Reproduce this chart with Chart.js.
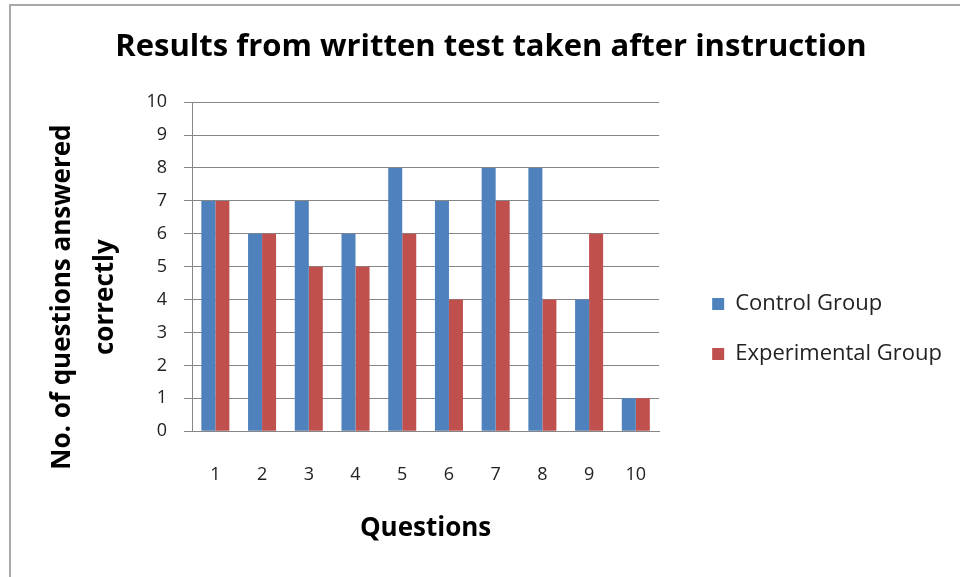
<!DOCTYPE html>
<html>
<head>
<meta charset="utf-8">
<script src="https://cdn.jsdelivr.net/npm/chart.js@4"></script>
<style>
  html, body { margin: 0; padding: 0; background: #fff; }
  #wrap { position: relative; width: 960px; height: 577px; overflow: hidden; }
  #frame { position: absolute; left: 9px; top: 4px; width: 1000px; height: 700px;
           border-left: 2px solid #a9a9a9; border-top: 2px solid #a9a9a9; }
  #myChart { position: absolute; left: 0; top: 0; }
</style>
</head>
<body>
<div id="wrap">
  <div id="frame"></div>
  <canvas id="myChart" width="960" height="577"></canvas>
</div>
<script>
const questions = ["1", "2", "3", "4", "5", "6", "7", "8", "9", "10"];
const controlGroup = [7, 6, 7, 6, 8, 7, 8, 8, 4, 1];
const experimentalGroup = [7, 6, 5, 5, 6, 4, 7, 4, 6, 1];
const yTicks = [0, 1, 2, 3, 4, 5, 6, 7, 8, 9, 10];

const ctx = document.getElementById("myChart");
const fontFamily = "'Open Sans', sans-serif";

// trailing spaces push the rotated title a bit lower, like the original
const yTitlePad = "         ";

new Chart(ctx, {
  type: "bar",
  data: {
    labels: questions,
    datasets: [
      {
        label: "Control Group",
        data: controlGroup,
        backgroundColor: "#4f81bd",
        categoryPercentage: 0.6,
        barPercentage: 1.0,
      },
      {
        label: "Experimental Group",
        data: experimentalGroup,
        backgroundColor: "#c0504d",
        categoryPercentage: 0.6,
        barPercentage: 1.0,
      },
    ],
  },
  options: {
    responsive: false,
    animation: false,
    layout: {
      padding: { left: 30, right: 8, top: 29, bottom: 33 },
    },
    plugins: {
      title: {
        display: true,
        text: "Results from written test taken after instruction",
        color: "#000",
        font: { family: fontFamily, size: 31, weight: "bold" },
        padding: { top: 0, bottom: 36 },
      },
      legend: {
        position: "right",
        maxWidth: 320,
        // empty title only used to move the items down
        title: {
          display: true,
          text: "",
          font: { size: 4 },
          padding: { top: 40, bottom: 40 },
        },
        labels: {
          boxWidth: 12,
          boxHeight: 12,
          padding: 28,
          color: "#222",
          font: { family: fontFamily, size: 22 },
        },
      },
      tooltip: { enabled: false },
    },
    scales: {
      x: {
        grid: { display: false, drawTicks: true, tickLength: 22 },
        border: { color: "#868686" },
        ticks: {
          color: "#222",
          padding: 11,
          font: { family: fontFamily, size: 18 },
        },
        title: {
          display: true,
          text: "Questions",
          color: "#000",
          font: { family: fontFamily, size: 26, weight: "bold" },
          padding: { top: 16, bottom: 0 },
        },
      },
      y: {
        min: 0,
        max: 10,
        afterBuildTicks: (axis) => {
          axis.ticks = yTicks.map((v) => ({ value: v }));
        },
        afterFit: (axis) => {
          axis.width = 162;
        },
        grid: { color: "#868686", tickLength: 8 },
        border: { color: "#868686" },
        ticks: {
          color: "#222",
          padding: 17,
          font: { family: fontFamily, size: 18 },
        },
        title: {
          display: true,
          text: ["No. of questions answered" + yTitlePad, "correctly" + yTitlePad],
          color: "#000",
          font: { family: fontFamily, size: 26, weight: "bold", lineHeight: 1.65 },
          padding: { top: 11, bottom: 16 },
        },
      },
      // empty spacer between plot and legend
      gap: {
        type: "linear",
        position: "right",
        display: true,
        grid: { display: false },
        border: { display: false },
        ticks: { display: false },
        afterFit: (axis) => {
          axis.width = 25;
        },
      },
    },
  },
});
</script>
</body>
</html>
